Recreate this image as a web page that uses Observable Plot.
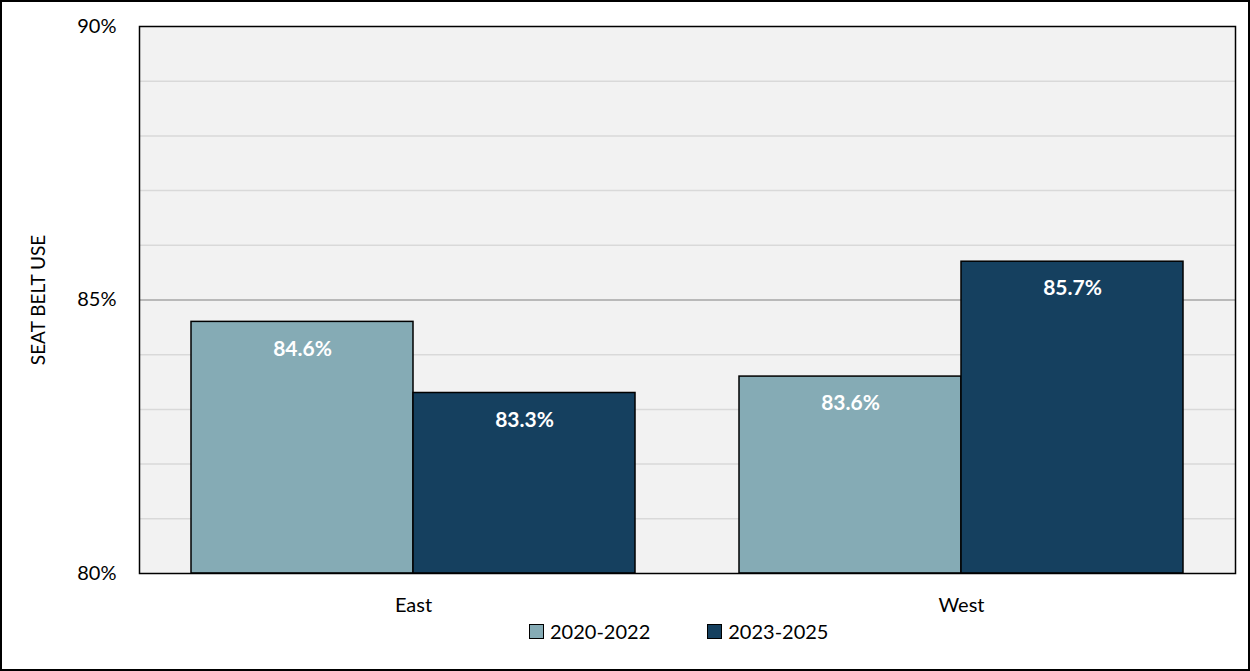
<!DOCTYPE html>
<html>
<head>
<meta charset="utf-8">
<script src="https://cdn.jsdelivr.net/npm/d3@7"></script>
<script src="https://cdn.jsdelivr.net/npm/@observablehq/plot@0.6"></script>
<style>
  html, body { margin: 0; padding: 0; background: #fff; }
  #wrap { position: relative; width: 1250px; height: 671px; overflow: hidden; font-family: Lato, "Noto Sans", sans-serif; }
  #border { position: absolute; left: 0; top: 0; width: 1250px; height: 671px; box-sizing: border-box; border: 2px solid #000; pointer-events: none; }
  #chart svg { display: block; }
  #legend { position: absolute; top: 619px; left: 529px; display: flex; align-items: center; font-size: 20px; color: #000; }
  .item { display: flex; align-items: center; }
  .sw { width: 13px; height: 13px; border: 1px solid #000; margin-right: 6px; }
</style>
</head>
<body>
<div id="wrap">
  <div id="chart"></div>
  <div id="legend"></div>
  <div id="border"></div>
</div>
<script>
const regions = ["East", "West"];
const periods = ["2020-2022", "2023-2025"];
const values2020_2022 = [84.6, 83.6];
const values2023_2025 = [83.3, 85.7];
const yTicks = [80, 85, 90];
const gridValues = [81, 82, 83, 84, 86, 87, 88, 89];
const colors = ["#85abb5", "#15405f"];

const dataA = regions.map((r, i) => ({region: r, period: periods[0], value: values2020_2022[i]}));
const dataB = regions.map((r, i) => ({region: r, period: periods[1], value: values2023_2025[i]}));

const fmt = d => d.toFixed(1) + "%";

const chart = Plot.plot({
  width: 1250,
  height: 620,
  marginTop: 26,
  marginLeft: 139,
  marginRight: 15,
  marginBottom: 47,
  style: {fontFamily: "Lato, 'Noto Sans', sans-serif", fontSize: "20px", color: "#000", background: "transparent"},
  x: {domain: regions, padding: 0, label: null},
  y: {domain: [80, 90], ticks: yTicks, label: null},
  marks: [
    Plot.frame({fill: "#f2f2f2", stroke: "none"}),
    Plot.ruleY(gridValues, {stroke: "#d9d9d9", strokeWidth: 1.5}),
    Plot.ruleY([85], {stroke: "#a6a6a6", strokeWidth: 1.5}),
    Plot.barY(dataA, {x: "region", y1: 80, y2: "value", fill: colors[0], stroke: "#000", strokeWidth: 1.5, insetLeft: 52, insetRight: 274}),
    Plot.barY(dataB, {x: "region", y1: 80, y2: "value", fill: colors[1], stroke: "#000", strokeWidth: 1.5, insetLeft: 274, insetRight: 52}),
    Plot.text(dataA, {x: "region", y: "value", text: d => fmt(d.value), dx: -111, dy: 27, fill: "#fff", fontWeight: "bold", fontSize: 21, lineAnchor: "middle"}),
    Plot.text(dataB, {x: "region", y: "value", text: d => fmt(d.value), dx: 111, dy: 27, fill: "#fff", fontWeight: "bold", fontSize: 21, lineAnchor: "middle"}),
    Plot.frame({stroke: "#000", strokeWidth: 1.5}),
    Plot.axisX({tickSize: 0, tickPadding: 24, fontSize: 20, label: null}),
    Plot.axisY({ticks: yTicks, tickSize: 0, tickPadding: 23, fontSize: 20, tickFormat: d => d + "%", label: "SEAT BELT USE", labelAnchor: "center", labelArrow: "none", labelOffset: 108})
  ]
});
document.getElementById("chart").appendChild(chart);
// y-axis title font size
chart.querySelectorAll("text").forEach(t => {
  if (t.textContent === "SEAT BELT USE") t.setAttribute("font-size", "19");
});

const legend = document.getElementById("legend");
periods.forEach((p, i) => {
  const item = document.createElement("div");
  item.className = "item";
  if (i > 0) item.style.marginLeft = "57px";
  const sw = document.createElement("div");
  sw.className = "sw";
  sw.style.background = colors[i];
  const lab = document.createElement("span");
  lab.textContent = p;
  item.appendChild(sw);
  item.appendChild(lab);
  legend.appendChild(item);
});
</script>
</body>
</html>
